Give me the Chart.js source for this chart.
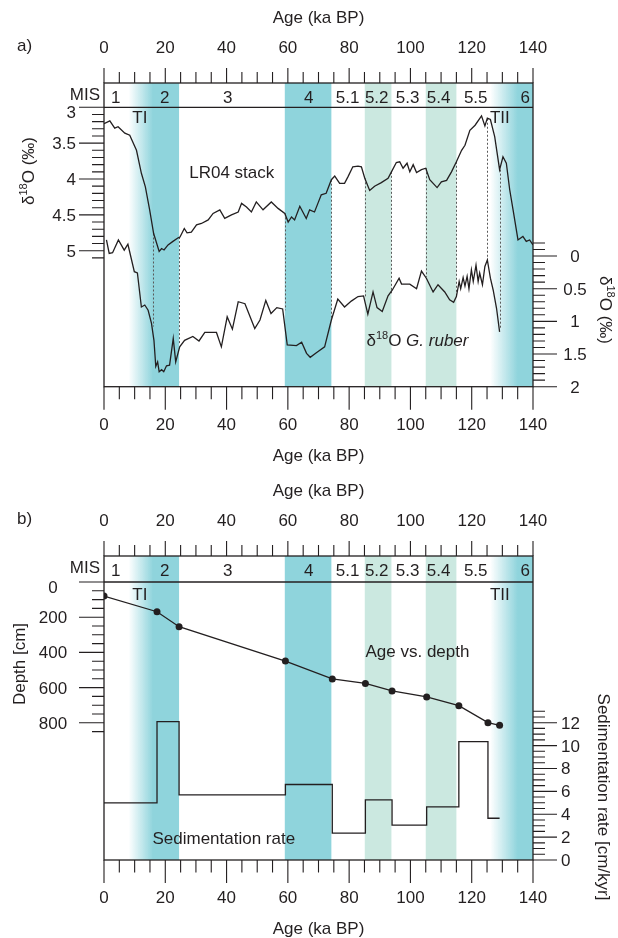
<!DOCTYPE html>
<html>
<head>
<meta charset="utf-8">
<script src="https://cdn.jsdelivr.net/npm/chart.js@4.4.1/dist/chart.umd.min.js"></script>
<style>
  html, body { margin: 0; padding: 0; background: #fff; }
  #wrap { position: relative; width: 618px; height: 938px; }
  canvas { position: absolute; left: 0; }
  #chartA { top: 0; }
  #chartB { top: 469px; }
</style>
</head>
<body>
<div id="wrap">
  <canvas id="chartA" width="618" height="469"></canvas>
  <canvas id="chartB" width="618" height="469"></canvas>
</div>
<script>
// LR04 benthic stack (left axis, panel a)
const lr04Age = [0, 1.9, 3.5, 4.6, 6.8, 8.4, 10.6, 12.2, 13.5, 14.9, 16.2, 18, 18.8, 19.6, 20.9, 22.5, 24.2, 24.8,
  26.2, 27.1, 28.5, 30.2, 31.8, 34, 35.6, 37.8, 39.4, 41.6, 43.8, 44.9, 46.5, 48.1, 49.7, 51.9, 54.6, 56.8,
  59, 60.1, 61.2, 62.2, 63.9, 66, 67.1, 68.7, 69.8, 70.9, 72.5, 74.2, 75.3, 76.9, 78.5, 79.6, 81.2, 82.9, 84,
  85.1, 86.7, 88.3, 90.5, 92.7, 93.8, 95.4, 96.5, 97.6, 98.9, 99.8, 100.9, 102, 103.6, 105, 106.3, 108.7,
  110.1, 111.8, 113.4, 115, 116.7, 117.8, 119.4, 121.1, 123.2, 124.3, 125.1, 126.1, 127.5, 129.1, 130.2,
  131.3, 132.4, 133.5, 135.1, 136.7, 137.8, 138.9, 140];
const lr04Val = [3.23, 3.19, 3.29, 3.27, 3.36, 3.39, 3.6, 3.92, 4.11, 4.43, 4.76, 5.01, 4.97, 4.99, 4.92, 4.87, 4.82, 4.81,
  4.69, 4.75, 4.74, 4.64, 4.62, 4.57, 4.48, 4.43, 4.55, 4.5, 4.46, 4.34, 4.39, 4.46, 4.32, 4.43, 4.32, 4.41,
  4.48, 4.6, 4.53, 4.57, 4.38, 4.55, 4.43, 4.46, 4.34, 4.22, 4.2, 4.01, 3.96, 4.06, 4.06, 3.97, 3.83, 3.82, 3.83,
  3.99, 4.16, 4.1, 4.05, 3.99, 3.9, 3.77, 3.76, 3.85, 3.78, 3.9, 3.8, 3.91, 3.87, 3.85, 4.01, 4.12,
  4.04, 4.02, 3.9, 3.76, 3.6, 3.53, 3.32, 3.25, 3.12, 3.26, 3.15, 3.17, 3.41, 3.87, 3.69,
  3.78, 4.15, 4.43, 4.85, 4.8, 4.87, 4.85, 4.92];

// G. ruber d18O (right axis, panel a)
const ruberAge = [0.8, 1.7, 2.8, 4.7, 6.6, 7.8, 9.9, 10.9, 12.2, 13.3, 14.4, 15.5, 16.3, 16.9, 17.5, 18, 18.8, 19.5,
  20.4, 21.4, 22.6, 23.4, 24.7, 26.3, 29, 31, 32.9, 36.7, 38.3, 40.2, 41.9, 43.8, 46, 49.2, 50.9, 52.8, 54.5,
  56.4, 58.3, 59.8, 62.8, 64.5, 66.1, 67.3, 69.3, 72, 74.2, 76.3, 78.5, 80.7, 82.9, 84.7, 86.1, 87.8, 89.1,
  90.8, 92.7, 94.1, 96.3, 97.1, 99.8, 102, 103.6, 105.2, 107.4, 109, 111.2, 112.8, 114.1, 115, 115.9, 116.4,
  117.2, 117.8, 118.5, 119.1, 119.9, 120.5, 121.4, 122.1, 122.6, 123.5, 124.3, 125.1, 126.1, 127, 128.1, 129.1];
const ruberVal = [-0.245, -0.04, -0.05, -0.245, -0.09, -0.18, 0.24, 0.26, 0.78, 0.75, 0.83, 1.03, 1.29, 1.69, 1.62, 1.77, 1.74, 1.77,
  1.68, 1.67, 1.26, 1.62, 1.39, 1.29, 1.23, 1.3, 1.17, 1.17, 1.39, 0.93, 1.12, 0.7, 0.73, 1.11, 0.98, 0.68, 0.88,
  0.79, 0.81, 1.36, 1.37, 1.32, 1.49, 1.55, 1.48, 1.39, 0.98, 0.66, 0.78, 0.69, 0.62, 0.61, 0.89, 0.55, 0.79,
  0.85, 0.61, 0.52, 0.34, 0.43, 0.43, 0.5, 0.23, 0.34, 0.55, 0.44, 0.55, 0.67, 0.71, 0.62, 0.39, 0.5,
  0.33, 0.46, 0.31, 0.5, 0.21, 0.39, 0.14, 0.39, 0.26, 0.44, 0.16, 0.06, 0.34, 0.52, 0.8, 1.16];

// tie points between the two records (dotted lines)
const tieAge = [16.0, 24.5, 59.0, 74.2, 85.1, 93.8, 105.0, 115.0, 125.1, 129.1];
const tieLR04 = [4.76, 4.81, 4.48, 4.01, 3.99, 3.9, 3.85, 3.76, 3.16, 3.87];
const tieRuber = [1.08, 1.34, 0.83, 0.95, 0.62, 0.57, 0.32, 0.62, 0.06, 1.13];

// panel b: age model and sedimentation rate
const depthAge = [0, 17.3, 24.5, 59.2, 74.5, 85.3, 94.0, 105.3, 115.8, 125.3, 129.1];
const depthCm = [80, 169, 254, 449, 551, 576, 619, 653, 703, 799, 814];
const sedRate = [5.0, 12.1, 5.7, 6.6, 2.35, 5.25, 3.05, 4.65, 10.35, 3.65, 3.65];

// shaded stages (fade start, solid start, end)
const bandFrom = [8, 59, 85.1, 105, 126];
const bandSolid = [16, 59, 85.1, 105, 135];
const bandTo = [24.5, 74.2, 93.8, 115, 140];
const bandKind = ['glacial', 'glacial', 'stadial', 'stadial', 'glacial'];

// MIS labels
const misLabels = ['1', '2', '3', '4', '5.1', '5.2', '5.3', '5.4', '5.5', '6'];
const misAge = [3.8, 19.8, 40.4, 66.8, 79.5, 89, 99.1, 109.2, 121.3, 137.5];

// tick labels
const ageTicks = [0, 20, 40, 60, 80, 100, 120, 140];
const o18Ticks = [3, 3.5, 4, 4.5, 5];
const ruberTicks = [0, 0.5, 1, 1.5, 2];
const depthTicks = [0, 200, 400, 600, 800];
const sedTicks = [0, 2, 4, 6, 8, 10, 12];

const INK = '#231f20';
const FONT = '"Liberation Sans", Arial, sans-serif';
const COLORS = { glacial: [143, 212, 220], stadial: [203, 232, 224] };
const F = (size, style) => (style ? style + ' ' : '') + size + 'px ' + FONT;

function richWidth(ctx, parts) {
  let w = 0;
  parts.forEach(p => { ctx.font = p.font; w += ctx.measureText(p.t).width; });
  return w;
}

function drawRich(ctx, parts, x, y, align) {
  const w = richWidth(ctx, parts);
  let cx = align === 'center' ? x - w / 2 : align === 'right' ? x - w : x;
  ctx.textAlign = 'left';
  ctx.textBaseline = 'alphabetic';
  parts.forEach(p => {
    ctx.font = p.font;
    ctx.fillText(p.t, cx, y + (p.dy || 0));
    cx += ctx.measureText(p.t).width;
  });
}

function drawRotated(ctx, parts, x, y, angle) {
  ctx.save();
  ctx.translate(x, y);
  ctx.rotate(angle);
  drawRich(ctx, parts, 0, 6, 'center');
  ctx.restore();
}

const txt = (t, size, style, dy) => ({ t, font: F(size || 17, style), dy: dy || 0 });
const d18O = tail => [txt('δ'), txt('18', 11, null, -7), txt('O' + tail)];

function steps(from, to, step) {
  const out = [];
  for (let i = 0; from + i * step <= to + 1e-9; i++) out.push(from + i * step);
  return out;
}
const isMajor = (v, list) => list.some(m => Math.abs(m - v) < 1e-6);

function drawBands(chart) {
  const { ctx, chartArea: a } = chart;
  const x = chart.scales.x;
  ctx.save();
  bandFrom.forEach((from, i) => {
    const [r, g, b] = COLORS[bandKind[i]];
    const x0 = x.getPixelForValue(from), xs = x.getPixelForValue(bandSolid[i]), x1 = x.getPixelForValue(bandTo[i]);
    let fill = `rgb(${r},${g},${b})`;
    if (xs > x0) {
      const grad = ctx.createLinearGradient(x0, 0, x1, 0);
      grad.addColorStop(0, `rgba(${r},${g},${b},0)`);
      grad.addColorStop((xs - x0) / (x1 - x0), fill);
      grad.addColorStop(1, fill);
      fill = grad;
    }
    ctx.fillStyle = fill;
    ctx.fillRect(x0, a.top, x1 - x0, a.bottom - a.top);
  });
  ctx.restore();
}

function drawTies(chart) {
  const { ctx } = chart;
  const { x, yL, yR } = chart.scales;
  ctx.save();
  ctx.strokeStyle = '#5a5a5a';
  ctx.lineWidth = 1;
  ctx.setLineDash([2, 2]);
  tieAge.forEach((age, i) => {
    const px = Math.round(x.getPixelForValue(age)) + 0.5;
    ctx.beginPath();
    ctx.moveTo(px, yL.getPixelForValue(tieLR04[i]));
    ctx.lineTo(px, yR.getPixelForValue(tieRuber[i]));
    ctx.stroke();
  });
  ctx.restore();
}

function drawFrame(chart, cfg) {
  const { ctx, chartArea: a } = chart;
  const x = chart.scales.x;
  const yl = chart.scales[cfg.left.id];
  const yr = chart.scales[cfg.right.id];
  ctx.save();
  ctx.strokeStyle = INK;
  ctx.fillStyle = INK;

  // frame and MIS row
  ctx.lineWidth = 1.3;
  ctx.strokeRect(a.left, a.top, a.right - a.left, a.bottom - a.top);
  const misY = yl.getPixelForValue(cfg.misValue);
  ctx.beginPath();
  ctx.moveTo(a.left, misY);
  ctx.lineTo(a.right, misY);
  ctx.stroke();

  // age ticks, top and bottom
  ctx.lineWidth = 1.1;
  ctx.beginPath();
  steps(0, 140, 5).forEach(v => {
    const px = x.getPixelForValue(v);
    const major = isMajor(v, ageTicks);
    ctx.moveTo(px, a.top);
    ctx.lineTo(px, a.top - (major ? 15 : 11));
    ctx.moveTo(px, a.bottom);
    ctx.lineTo(px, a.bottom + (major ? 23 : 12.5));
  });
  ctx.stroke();
  ctx.font = F(17);
  ctx.textAlign = 'center';
  ctx.textBaseline = 'alphabetic';
  ageTicks.forEach(v => {
    const px = x.getPixelForValue(v);
    ctx.fillText(String(v), px, a.top - 30);
    ctx.fillText(String(v), px, a.bottom + 43);
  });
  const midX = (a.left + a.right) / 2;
  ctx.fillText('Age (ka BP)', midX, a.top - 60);
  ctx.fillText('Age (ka BP)', midX, a.bottom + 74);

  // left axis
  const L = cfg.left;
  ctx.beginPath();
  steps(L.from, L.to, L.step).forEach(v => {
    const py = yl.getPixelForValue(v);
    ctx.moveTo(a.left, py);
    ctx.lineTo(a.left - (isMajor(v, L.ticks) ? 25 : 12), py);
  });
  ctx.stroke();
  ctx.font = F(17);
  ctx.textAlign = L.align;
  L.ticks.forEach(v => {
    const dy = Math.abs(v - cfg.misValue) < 1e-6 ? 5 : 0;
    ctx.fillText(String(v), L.labelX, yl.getPixelForValue(v) + 6 + dy);
  });

  // right axis
  const R = cfg.right;
  ctx.beginPath();
  steps(R.from, R.to, R.step).forEach(v => {
    const py = yr.getPixelForValue(v);
    ctx.moveTo(a.right, py);
    ctx.lineTo(a.right + (isMajor(v, R.ticks) ? 24 : 12), py);
  });
  ctx.stroke();
  ctx.textAlign = R.align;
  R.ticks.forEach(v => ctx.fillText(String(v), R.labelX, yr.getPixelForValue(v) + 6));

  // MIS row labels
  ctx.textAlign = 'right';
  ctx.fillText('MIS', a.left - 4, a.top + 17);
  ctx.textAlign = 'center';
  misLabels.forEach((m, i) => ctx.fillText(m, x.getPixelForValue(misAge[i]), a.top + 20));

  // panel letter
  ctx.textAlign = 'left';
  ctx.fillText(cfg.letter, 17, a.top - 32);

  // axis titles
  drawRotated(ctx, cfg.leftTitle, cfg.leftTitleX, cfg.leftTitleY, -Math.PI / 2);
  drawRotated(ctx, cfg.rightTitle, cfg.rightTitleX, cfg.rightTitleY, Math.PI / 2);

  // annotations
  cfg.notes.forEach(n => drawRich(ctx, n.parts, x.getPixelForValue(n.age), n.y, 'center'));
  ctx.restore();
}

function framePlugin(cfg) {
  return {
    id: 'frame',
    beforeDatasetsDraw(chart) {
      drawBands(chart);
      if (cfg.ties) drawTies(chart);
    },
    afterDraw(chart) { drawFrame(chart, cfg); }
  };
}

function lineSet(ages, vals, axis, extra) {
  return Object.assign({
    data: ages.map((a, i) => ({ x: a, y: vals[i] })),
    yAxisID: axis,
    borderColor: INK,
    borderWidth: 1.3,
    pointRadius: 0,
    tension: 0,
    fill: false
  }, extra || {});
}

function options(scales) {
  return {
    responsive: false,
    animation: false,
    events: [],
    layout: { padding: { left: 104, right: 85, top: scales.top, bottom: scales.bottom } },
    plugins: { legend: { display: false }, tooltip: { enabled: false } },
    scales: scales.axes
  };
}

// panel a
new Chart(document.getElementById('chartA'), {
  type: 'line',
  data: {
    datasets: [
      lineSet(lr04Age, lr04Val, 'yL'),
      lineSet(ruberAge, ruberVal, 'yR')
    ]
  },
  options: options({
    top: 83, bottom: 82.3,
    axes: {
      x: { type: 'linear', min: 0, max: 140, display: false },
      yL: { type: 'linear', min: 2.6611, max: 6.8968, reverse: true, display: false },
      yR: { type: 'linear', min: -2.6473, max: 2.0, reverse: true, display: false }
    }
  }),
  plugins: [framePlugin({
    letter: 'a)',
    ties: true,
    misValue: 3,
    left: { id: 'yL', from: 3, to: 5.1, step: 0.1, ticks: o18Ticks, labelX: 76, align: 'right' },
    right: { id: 'yR', from: -0.2, to: 2, step: 0.1, ticks: ruberTicks, labelX: 575, align: 'center' },
    leftTitle: d18O(' (‰)'), leftTitleX: 28, leftTitleY: 171,
    rightTitle: d18O(' (‰)'), rightTitleX: 606, rightTitleY: 310,
    notes: [
      { parts: [txt('TI')], age: 11.7, y: 123 },
      { parts: [txt('TII')], age: 129.2, y: 123 },
      { parts: [txt('LR04 stack')], age: 41.7, y: 178 },
      { parts: d18O(' ').concat([txt('G. ruber', 17, 'italic')]), age: 102.3, y: 346 }
    ]
  })]
});

// panel b
new Chart(document.getElementById('chartB'), {
  type: 'line',
  data: {
    datasets: [
      lineSet(depthAge, depthCm, 'yD', { pointRadius: 3.5, pointBackgroundColor: INK, pointBorderWidth: 0 }),
      lineSet(depthAge, sedRate, 'yS', { stepped: 'before' })
    ]
  },
  options: options({
    top: 87, bottom: 78,
    axes: {
      x: { type: 'linear', min: 0, max: 140, display: false },
      yD: { type: 'linear', min: -147.7, max: 1579.5, reverse: true, display: false },
      yS: { type: 'linear', min: 0, max: 26.57, display: false }
    }
  }),
  plugins: [framePlugin({
    letter: 'b)',
    ties: false,
    misValue: 0,
    left: { id: 'yD', from: 0, to: 850, step: 50, ticks: depthTicks, labelX: 53, align: 'center' },
    right: { id: 'yS', from: 0, to: 13, step: 0.5, ticks: sedTicks, labelX: 561, align: 'left' },
    leftTitle: [txt('Depth [cm]')], leftTitleX: 19, leftTitleY: 195,
    rightTitle: [txt('Sedimentation rate [cm/kyr]')], rightTitleX: 604, rightTitleY: 328,
    notes: [
      { parts: [txt('TI')], age: 11.7, y: 131 },
      { parts: [txt('TII')], age: 129.2, y: 131 },
      { parts: [txt('Age vs. depth')], age: 102.3, y: 188 },
      { parts: [txt('Sedimentation rate')], age: 39.1, y: 375 }
    ]
  })]
});
</script>
</body>
</html>
